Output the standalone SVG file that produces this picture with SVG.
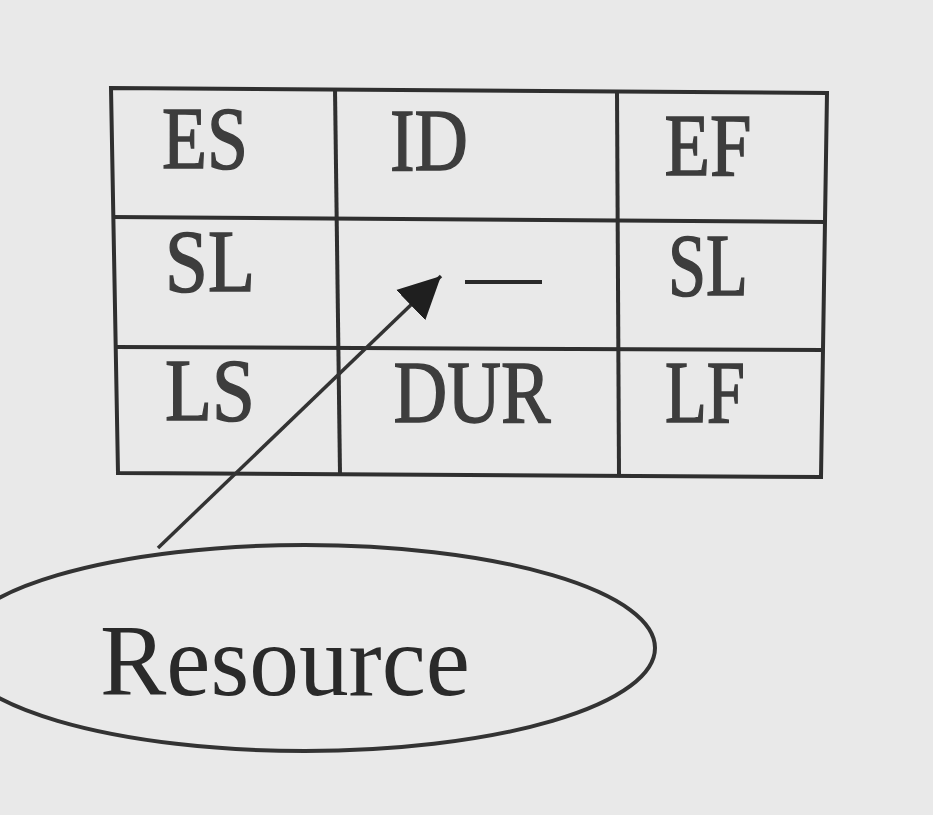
<svg xmlns="http://www.w3.org/2000/svg" width="933" height="815" viewBox="0 0 933 815">
  <style>
    .grid { fill: none; stroke: #2f2f2f; stroke-width: 4; stroke-linejoin: miter; }
    .cell { font-family: "Liberation Serif", "Times New Roman", serif; font-size: 88px; fill: #3d3d3d; stroke: #3d3d3d; stroke-width: 1.5; text-anchor: middle; }
    .label { font-family: "Liberation Serif", "Times New Roman", serif; font-size: 101px; fill: #2a2a2a; }
    .leader { fill: none; stroke: #333333; stroke-width: 3.5; }
    .oval { fill: none; stroke: #333333; stroke-width: 4; }
  </style>
  <defs>
    <marker id="arrow" markerUnits="userSpaceOnUse" markerWidth="44" markerHeight="44" refX="42" refY="22" orient="auto">
      <path d="M0,1 L42,22 L0,43 Z" fill="#1f1f1f"/>
    </marker>
  </defs>
  <rect x="0" y="0" width="933" height="815" fill="#e9e9e9"/>

  <g id="table">
    <polygon class="grid" points="111,88 827,93 821,477 118,473"/>
    <line class="grid" x1="112" y1="217" x2="826" y2="222"/>
    <line class="grid" x1="115" y1="347" x2="823" y2="350"/>
    <line class="grid" x1="335" y1="89" x2="340" y2="474"/>
    <line class="grid" x1="617" y1="92" x2="619" y2="476"/>
  </g>

  <g id="cell-es"><text class="cell" x="205" y="168" textLength="86" lengthAdjust="spacingAndGlyphs">ES</text></g>
  <g id="cell-id"><text class="cell" x="429" y="170" textLength="78" lengthAdjust="spacingAndGlyphs">ID</text></g>
  <g id="cell-ef"><text class="cell" x="708" y="175" textLength="87" lengthAdjust="spacingAndGlyphs">EF</text></g>
  <g id="cell-sl-left"><text class="cell" x="210" y="291" textLength="90" lengthAdjust="spacingAndGlyphs">SL</text></g>
  <g id="cell-resource">
    <line x1="465" y1="282" x2="542" y2="282" stroke="#2a2a2a" stroke-width="4"/>
  </g>
  <g id="cell-sl-right"><text class="cell" x="708" y="295" textLength="80" lengthAdjust="spacingAndGlyphs">SL</text></g>
  <g id="cell-ls"><text class="cell" x="210" y="420" textLength="90" lengthAdjust="spacingAndGlyphs">LS</text></g>
  <g id="cell-dur"><text class="cell" x="472" y="422" textLength="157" lengthAdjust="spacingAndGlyphs">DUR</text></g>
  <g id="cell-lf"><text class="cell" x="705" y="422" textLength="80" lengthAdjust="spacingAndGlyphs">LF</text></g>

  <g id="resource-callout">
    <ellipse class="oval" cx="305" cy="648" rx="350" ry="103"/>
    <text class="label" x="100" y="695" textLength="370" lengthAdjust="spacingAndGlyphs">Resource</text>
  </g>

  <g id="connectors">
    <line class="leader" x1="158" y1="548" x2="441" y2="276" marker-end="url(#arrow)"/>
  </g>
</svg>
